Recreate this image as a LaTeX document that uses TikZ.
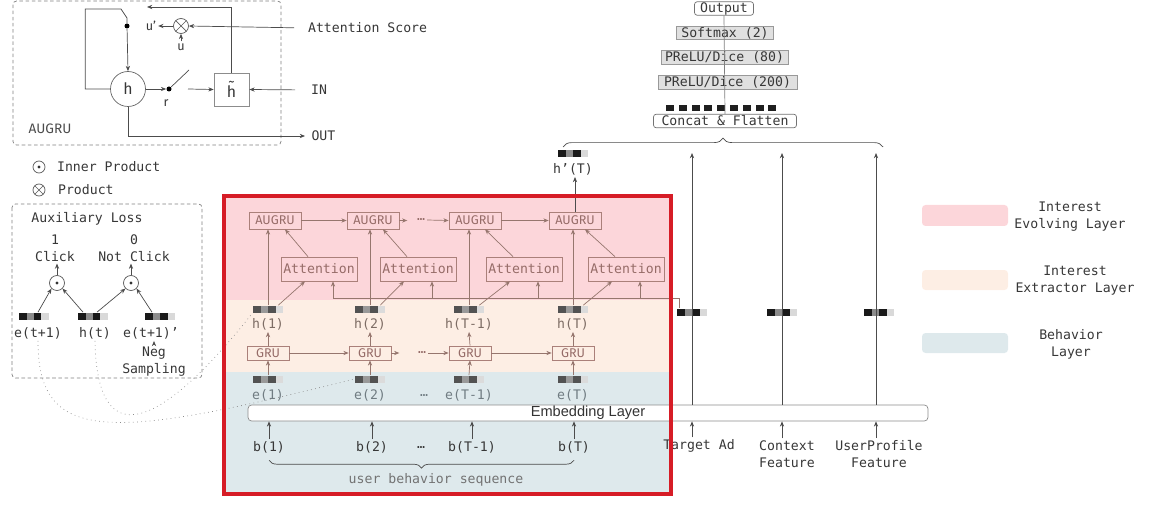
\documentclass[tikz,border=0pt]{standalone}
\usepackage{fontspec}
\newfontfamily\monofont{DejaVu Sans Mono}
\newfontfamily\sansfont{Fira Sans}
\newfontfamily\helvfont{Liberation Sans}
\usetikzlibrary{arrows.meta,calc,decorations.pathreplacing}

\definecolor{evolvec}{RGB}{252,214,218}
\definecolor{extractc}{RGB}{253,238,228}
\definecolor{behavec}{RGB}{222,233,236}
\definecolor{boxc}{RGB}{170,128,122}
\definecolor{boxt}{RGB}{150,108,104}
\definecolor{wirec}{RGB}{150,118,110}
\definecolor{hlabc}{RGB}{125,108,100}
\definecolor{elabc}{RGB}{112,124,130}
\definecolor{txtc}{RGB}{55,55,55}
\definecolor{framec}{RGB}{214,28,38}

% one embedding vector: four cells
\newcommand{\embcells}[3]{%
  \fill[#1] (path picture bounding box.south west) rectangle ++(0.15cm,0.14cm);
  \fill[#2] ($(path picture bounding box.south west)+(0.15cm,0)$) rectangle ++(0.15cm,0.14cm);
  \fill[#1] ($(path picture bounding box.south west)+(0.30cm,0)$) rectangle ++(0.15cm,0.14cm);
  \fill[#3] ($(path picture bounding box.south west)+(0.45cm,0)$) rectangle ++(0.15cm,0.14cm);}

\tikzset{
  mono/.style={font=\monofont\fontsize{7.5}{9.7}\selectfont, text=txtc, inner sep=1pt},
  sansl/.style={font=\sansfont\fontsize{7.2}{9}\selectfont, text=txtc, inner sep=1pt},
  wire/.style={draw=black!70, thin, >={Stealth[length=3pt,width=2.4pt]}},
  bandwire/.style={draw=wirec, thin, >={Stealth[length=3pt,width=2.4pt]}},
  augbox/.style={draw=boxc, sansl, text=boxt, minimum width=1.04cm, minimum height=0.34cm},
  attbox/.style={draw=boxc, mono, text=boxt, minimum width=1.52cm, minimum height=0.48cm},
  grubox/.style={draw=boxc, sansl, text=boxt, inner ysep=0.3pt, minimum width=0.84cm, minimum height=0.28cm},
  mlpbox/.style={draw=black!40, fill=black!12, mono, inner ysep=0.2pt, minimum height=0.27cm},
  roundbox/.style={draw=black!55, fill=white, rounded corners=1.5pt, mono, inner ysep=0.2pt, minimum height=0.27cm},
  vecbase/.style={minimum width=0.6cm, minimum height=0.14cm, inner sep=0pt},
  embvec/.style={vecbase, path picture={\embcells{black!90}{black!45}{black!15}}},
  bandvec/.style={vecbase, path picture={\embcells{black!68}{black!40}{black!14}}},
  odot/.style={circle, draw=black!65, minimum size=0.3cm, inner sep=0pt,
    path picture={\fill[black!80] (path picture bounding box.center) circle (0.9pt);}},
  otimes/.style={circle, draw=black!65, minimum size=0.3cm, inner sep=0pt,
    path picture={\draw[black!65] (path picture bounding box.north west) -- (path picture bounding box.south east)
      (path picture bounding box.north east) -- (path picture bounding box.south west);}},
  dashframe/.style={draw=black!50, dash pattern=on 2pt off 1.5pt, rounded corners=2pt}
}

\begin{document}
\begin{tikzpicture}[x=0.02cm, y=-0.02cm]
  \useasboundingbox (0,0) rectangle (1166,513);

  % AUGRU cell
  \draw[dashframe] (13,1) rectangle (281,145);
  \node[circle, draw=black!60, minimum size=0.7cm, font=\sansfont\fontsize{9}{10}\selectfont, text=txtc] (hcell) at (128,89) {h};
  \node[draw=black!45, minimum width=0.7cm, minimum height=0.66cm, font=\sansfont\fontsize{9}{10}\selectfont, text=txtc] (hcand) at (231.5,89.5) {\~{h}};
  \node[circle, fill=black, inner sep=0pt, minimum size=0.1cm] (swdot) at (169,89) {};
  \node[circle, fill=black, inner sep=0pt, minimum size=0.1cm] (udot) at (127,26) {};
  \node[otimes] (prodop) at (181,26) {};
  \node[sansl] (ulab) at (181,47) {u};
  \node[sansl] (uplab) at (151,26) {u’};
  \node[sansl] (rlab) at (166,103) {r};
  \node[sansl, font=\sansfont\fontsize{7.8}{9}\selectfont, text=black!70] (augrulab) at (50,129) {AUGRU};
  \node[mono, anchor=west] (attscore) at (306,28) {Attention Score};
  \node[mono, anchor=west] (inlab) at (309,90) {IN};
  \node[mono, anchor=west, inner xsep=3.5pt] (outlab) at (305,136) {OUT};
  \coordinate (ucomb) at (147,7);
  \coordinate (swout) at (188,89);
  \draw[wire] (hcell.west) -- ++(-25,0) |- ($(udot)+(-6,-17)$) -- ($(udot)+(0,-8)$) -- (udot);
  \draw[wire,->] (udot) -- (hcell.north);
  \draw[wire,->] (hcand.north) |- (ucomb);
  \draw[wire,->] (prodop.west) -- (uplab.east);
  \draw[wire,->] (ulab.north) -- (prodop.south);
  \draw[wire,->,shorten <=0.24cm] (attscore.west) -- (prodop.east);
  \draw[wire,->,shorten <=0.28cm] (inlab.west) -- (hcand.east);
  \draw[wire,->] (hcell.south) |- (outlab.west);
  \draw[wire,->] (hcell.east) -- (swdot.west);
  \draw[wire] (swdot) -- ++(20,-19);
  \draw[wire,->] (swout) -- (hcand.west);

  % legend of operators
  \node[odot, minimum size=0.24cm] (ipsym) at (39,167) {};
  \node[mono, anchor=west] (iplab) at (55,167) {Inner Product};
  \node[otimes, minimum size=0.24cm] (psym) at (39,190) {};
  \node[mono, anchor=west] (plab) at (56,190) {Product};

  % auxiliary loss
  \draw[dashframe] (12,204) rectangle (202,378);
  \node[mono] (auxtitle) at (87,219) {Auxiliary Loss};
  \node[mono, align=center] (clickpos) at (55,248) {1\\Click};
  \node[mono, align=center] (clickneg) at (134,248) {0\\Not Click};
  \node[odot] (dotpos) at (57,283) {};
  \node[odot] (dotneg) at (131,283) {};
  \node[embvec] (auxe1v) at (34,316) {};
  \node[embvec] (auxhv) at (93,316) {};
  \node[embvec] (auxe2v) at (160,316) {};
  \node[mono] (auxe1) at (38,333) {e(t+1)};
  \node[mono] (auxh) at (95,333) {h(t)};
  \node[mono] (auxe2) at (151,333) {e(t+1)’};
  \node[mono, align=center] (negsamp) at (154,362) {Neg\\Sampling};
  \draw[wire,->] (negsamp.north) -- (negsamp.north |- auxe2.south);
  \draw[wire,->] ($(auxe1v.north)+(4,0)$) -- (dotpos.south west);
  \draw[wire,->] ($(auxhv.north)+(-10,0)$) -- (dotpos.south east);
  \draw[wire,->] ($(auxhv.north)+(4,0)$) -- (dotneg.south west);
  \draw[wire,->] ($(auxe2v.north)+(-8,0)$) -- (dotneg.south east);
  \draw[wire,->] (dotpos.north) -- (dotpos.north |- clickpos.south);
  \draw[wire,->] (dotneg.north) -- (dotneg.north |- clickneg.south);

  % layers
  \fill[evolvec] (225,197) rectangle (669,300);
  \fill[extractc] (225,300) rectangle (669,372);
  \fill[behavec] (225,372) rectangle (669,493);

  % interest evolving layer
  \node[augbox] (aug1) at (275,220.5) {AUGRU};
  \node[augbox] (aug2) at (373,220.5) {AUGRU};
  \node[augbox] (aug3) at (475,220.5) {AUGRU};
  \node[augbox] (aug4) at (575,220.5) {AUGRU};
  \node[attbox] (att1) at (319,269) {Attention};
  \node[attbox] (att2) at (418,269) {Attention};
  \node[attbox] (att3) at (524,269) {Attention};
  \node[attbox] (att4) at (626,269) {Attention};
  \node[mono, text=boxt] (augdots) at (421,220) {…};
  \draw[bandwire,->] (aug1.east) -- (aug2.west);
  \draw[bandwire,->] (aug2.east) -- ++(8,0);
  \draw[bandwire,->] (augdots.east) -- (aug3.west);
  \draw[bandwire,->] (aug3.east) -- (aug4.west);
  \draw[bandwire,->] ($(att1.north)+(-11,0)$) -- ($(aug1.south)+(10,0)$);
  \draw[bandwire,->] ($(att2.north)+(-11,0)$) -- ($(aug2.south)+(10,0)$);
  \draw[bandwire,->] ($(att3.north)+(-11,0)$) -- ($(aug3.south)+(10,0)$);
  \draw[bandwire,->] ($(att4.north)+(-11,0)$) -- ($(aug4.south)+(10,0)$);

  % interest extractor layer
  \node[bandvec] (h1v) at (268,309) {};
  \node[bandvec] (h2v) at (370,309) {};
  \node[bandvec] (h3v) at (469,309) {};
  \node[bandvec] (h4v) at (573,309) {};
  \node[mono, text=hlabc] (h1) at (268,324) {h(1)};
  \node[mono, text=hlabc] (h2) at (370,324) {h(2)};
  \node[mono, text=hlabc] (h3) at (469,324) {h(T-1)};
  \node[mono, text=hlabc] (h4) at (573,324) {h(T)};
  \node[grubox] (gru1) at (268,353) {GRU};
  \node[grubox] (gru2) at (370,353) {GRU};
  \node[grubox] (gru3) at (470,353) {GRU};
  \node[grubox] (gru4) at (573,353) {GRU};
  \node[mono, text=boxt] (grudots) at (422,353) {…};
  \draw[bandwire,->] (gru1.east) -- (gru2.west);
  \draw[bandwire,->] (gru2.east) -- ++(8,0);
  \draw[bandwire,->] (grudots.east) -- (gru3.west);
  \draw[bandwire,->] (gru3.east) -- (gru4.west);
  \draw[bandwire,->] (gru1.north) -- (h1.south);
  \draw[bandwire,->] (gru2.north) -- (h2.south);
  \draw[bandwire,->] (gru3.north) -- (h3.south);
  \draw[bandwire,->] (gru4.north) -- (h4.south);
  \draw[bandwire,->] (h1v.north) -- (h1v.north |- aug1.south);
  \draw[bandwire,->] (h2v.north) -- (h2v.north |- aug2.south);
  \draw[bandwire,->] (h3v.north) -- (h3v.north |- aug3.south);
  \draw[bandwire,->] (h4v.north) -- (h4v.north |- aug4.south);
  \draw[bandwire,->] ($(h1v.north east)+(-5,0)$) -- ($(att1.south)+(-14,0)$);
  \draw[bandwire,->] ($(h2v.north east)+(-5,0)$) -- ($(att2.south)+(-14,0)$);
  \draw[bandwire,->] ($(h3v.north east)+(-5,0)$) -- ($(att3.south)+(-14,0)$);
  \draw[bandwire,->] ($(h4v.north east)+(-5,0)$) -- ($(att4.south)+(-14,0)$);

  % behavior layer
  \node[bandvec] (e1v) at (268,379) {};
  \node[bandvec] (e2v) at (370,379) {};
  \node[bandvec] (e3v) at (469,379) {};
  \node[bandvec] (e4v) at (573,379) {};
  \node[mono, text=elabc] (e1) at (268,395) {e(1)};
  \node[mono, text=elabc] (e2) at (370,395) {e(2)};
  \node[mono, text=elabc] (edots) at (424,396) {…};
  \node[mono, text=elabc] (e3) at (469,395) {e(T-1)};
  \node[mono, text=elabc] (e4) at (573,395) {e(T)};
  \draw[bandwire,->] (e1v.north) -- (gru1.south);
  \draw[bandwire,->] (e2v.north) -- (gru2.south);
  \draw[bandwire,->] (e3v.north) -- (gru3.south);
  \draw[bandwire,->] (e4v.north) -- (gru4.south);
  \node[draw=black!45, fill=white, rounded corners=2pt, minimum width=13.6cm, minimum height=0.32cm, inner ysep=0pt,
    font=\helvfont\fontsize{8.3}{9}\selectfont, text=black!80] (emb) at (588,413) {Embedding Layer};
  \node[mono] (b1) at (269,447) {b(1)};
  \node[mono] (b2) at (372,447) {b(2)};
  \node[mono] (bdots) at (421,448) {…};
  \node[mono] (b3) at (472,447) {b(T-1)};
  \node[mono] (b4) at (574,447) {b(T)};
  \draw[wire,->] (b1.north) -- (b1.north |- emb.south);
  \draw[wire,->] (b2.north) -- (b2.north |- emb.south);
  \draw[wire,->] (b3.north) -- (b3.north |- emb.south);
  \draw[wire,->] (b4.north) -- (b4.north |- emb.south);
  \draw[wire, decorate, decoration={brace, mirror, amplitude=4.5pt}] ([yshift=-3pt]b1.south) -- ([yshift=-3pt]b4.south);
  \node[mono, text=black!55] (seqlab) at (436,480) {user behavior sequence};

  % auxiliary loss links
  \draw[black!45, dotted] (auxe1.south) .. controls (38,445) and (110,440) .. (e2v.west);
  \draw[black!45, dotted] (auxh.south) .. controls (97,455) and (160,430) .. (h1v.south west);

  % other features
  \node[embvec] (tgtv) at (692,312) {};
  \node[embvec] (ctxv) at (782,312) {};
  \node[embvec] (upv) at (879,312) {};
  \node[mono] (tgtlab) at (699,446) {Target Ad};
  \node[mono, align=center] (ctxlab) at (787,454) {Context\\Feature};
  \node[mono, align=center] (uplab2) at (879,454) {UserProfile\\Feature};
  \coordinate (feattop) at (0,153);
  \draw[wire,->] (tgtv |- tgtlab.north) -- (tgtv |- emb.south);
  \draw[wire,->] (ctxv |- ctxlab.north) -- (ctxv |- emb.south);
  \draw[wire,->] ($(upv |- uplab2.north)+(-3,0)$) -- ($(upv |- emb.south)+(-3,0)$);
  \draw[wire,->] (tgtv |- emb.north) -- (tgtv |- feattop);
  \draw[wire,->] (ctxv |- emb.north) -- (ctxv |- feattop);
  \draw[wire,->] ($(upv |- emb.north)+(-3,0)$) -- ($(upv |- feattop)+(-3,0)$);

  % target ad bus to attention units
  \coordinate (bus1) at (333,298);
  \coordinate (bus2) at (432,298);
  \coordinate (bus3) at (538,298);
  \coordinate (bus4) at (640,298);
  \draw[bandwire] ($(tgtv.north west)+(3,0)$) |- (bus1);
  \draw[bandwire,->] (bus1) -- (bus1 |- att1.south);
  \draw[bandwire,->] (bus2) -- (bus2 |- att2.south);
  \draw[bandwire,->] (bus3) -- (bus3 |- att3.south);
  \draw[bandwire,->] (bus4) -- (bus4 |- att4.south);

  % final state
  \node[embvec] (hTv) at (573,154) {};
  \node[mono] (hTlab) at (573,169) {h’(T)};
  \draw[wire,->] (aug4.north) -- (aug4.north |- hTlab.south);

  % MLP tower
  \coordinate (bracel) at (563,147);
  \coordinate (bracer) at (883,147);
  \draw[wire, decorate, decoration={brace, amplitude=5pt}] (bracel) -- (bracer);
  \node[roundbox, minimum width=2.86cm] (concat) at (725,121) {Concat \& Flatten};
  \foreach \k in {0,...,8} \fill[black!88] (666+12.8*\k,105) rectangle ++(8,6);
  \node[mlpbox, minimum width=2.78cm] (mlp200) at (727.5,82.5) {PReLU/Dice (200)};
  \node[mlpbox, minimum width=2.54cm] (mlp80) at (724.5,57.5) {PReLU/Dice (80)};
  \node[mlpbox, minimum width=1.94cm] (softmax) at (725,33) {Softmax (2)};
  \node[roundbox, minimum width=1.18cm] (outp) at (724,8.5) {Output};
  \draw[black!50, thin] (concat.north) -- (outp.south);

  % layer legend
  \fill[evolvec, rounded corners=2pt] (922,205) rectangle (1008,226);
  \node[mono, align=center] (evolvelab) at (1070,216.5) {Interest\\Evolving Layer};
  \fill[extractc, rounded corners=2pt] (922,270) rectangle (1008,290);
  \node[mono, align=center] (extractlab) at (1075,280.5) {Interest\\Extractor Layer};
  \fill[behavec, rounded corners=2pt] (922,333) rectangle (1008,353);
  \node[mono, align=center] (behavelab) at (1071,344.5) {Behavior\\Layer};

  % selection frame
  \draw[framec, line width=2pt] (224,196) rectangle (671,494);
\end{tikzpicture}
\end{document}
